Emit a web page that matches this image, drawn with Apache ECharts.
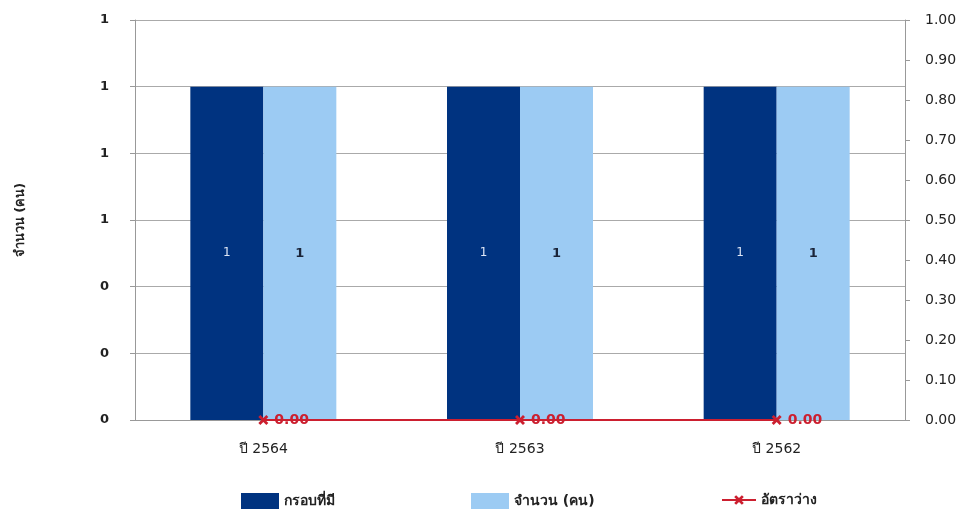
<!DOCTYPE html>
<html><head><meta charset="utf-8">
<script src="https://cdn.jsdelivr.net/npm/echarts@6/dist/echarts.min.js"></script>
<style>html,body{margin:0;padding:0;background:#fff}#c{width:963px;height:515px}</style>
</head><body><div id="c"></div>
<script>
const categories = ['ปี 2564', 'ปี 2563', 'ปี 2562'];
const frameworkValues = [1, 1, 1];
const staffValues = [1, 1, 1];
const vacancyRate = [0, 0, 0];
const seriesNames = ['กรอบที่มี', 'จำนวน (คน)', 'อัตราว่าง'];
const leftAxisName = 'จำนวน (คน)';

const FONT = 'Tahoma, "DejaVu Sans", "Noto Sans", sans-serif';
const xMark = 'path://M2,0L5,3L8,0L10,2L7,5L10,8L8,10L5,7L2,10L0,8L3,5L0,2Z';

const chart = echarts.init(document.getElementById('c'));
chart.setOption({
  animation: false,
  textStyle: { fontFamily: FONT },
  grid: { left: 135, right: 58, top: 20, bottom: 95 },
  legend: [
    { left: 236, top: 488, itemWidth: 38, itemHeight: 16, icon: 'rect', data: [seriesNames[0]],
      textStyle: { fontSize: 14, fontWeight: 'bold', color: '#222' } },
    { left: 466, top: 488, itemWidth: 38, itemHeight: 16, icon: 'rect', data: [seriesNames[1]],
      textStyle: { fontSize: 14, fontWeight: 'bold', color: '#222' } },
    { left: 716, top: 488, itemWidth: 34, itemHeight: 12, data: [seriesNames[2]],
      textStyle: { fontSize: 14, fontWeight: 'bold', color: '#222' } }
  ],
  xAxis: {
    type: 'category', data: categories,
    axisLine: { lineStyle: { color: '#999' } },
    axisTick: { show: false },
    axisLabel: { margin: 22, fontSize: 14, color: '#222' }
  },
  yAxis: [
    {
      type: 'value', min: 0, max: 1.2, interval: 0.2,
      name: leftAxisName, nameLocation: 'middle', nameGap: 108, nameRotate: 90,
      nameTextStyle: { fontSize: 13, fontWeight: 'bold', color: '#222' },
      axisLine: { show: true, lineStyle: { color: '#999' } },
      axisTick: { show: true, length: 5, lineStyle: { color: '#999' } },
      axisLabel: { margin: 26, fontSize: 13, fontWeight: 'bold', color: '#222',
        formatter: v => String(Math.round(v)) },
      splitLine: { show: true, lineStyle: { color: '#aaa' } }
    },
    {
      type: 'value', min: 0, max: 1, interval: 0.1, position: 'right',
      axisLine: { show: true, lineStyle: { color: '#999' } },
      axisTick: { show: true, length: 5, lineStyle: { color: '#999' } },
      axisLabel: { margin: 20, fontSize: 14, color: '#222', formatter: v => v.toFixed(2) },
      splitLine: { show: false }
    }
  ],
  series: [
    {
      name: seriesNames[0], type: 'bar', data: frameworkValues, barWidth: 73, barGap: '0%',
      itemStyle: { color: '#003380' },
      label: { show: true, position: 'inside', color: '#dde6f5', fontSize: 12, formatter: p => Math.round(p.value) }
    },
    {
      name: seriesNames[1], type: 'bar', data: staffValues, barWidth: 73, barGap: '0%',
      itemStyle: { color: '#9ccbf3' },
      label: { show: true, position: 'inside', color: '#1a2438', fontSize: 13, fontWeight: 'bold', formatter: p => Math.round(p.value) }
    },
    {
      name: seriesNames[2], type: 'line', yAxisIndex: 1, data: vacancyRate,
      symbol: xMark, symbolSize: 10,
      lineStyle: { color: '#cc1f2f', width: 2 },
      itemStyle: { color: '#cc1f2f' },
      label: { show: true, position: 'right', distance: 6, color: '#cc1f2f', fontSize: 14, fontWeight: 'bold',
        formatter: p => p.value.toFixed(2) }
    }
  ]
});
</script></body></html>
